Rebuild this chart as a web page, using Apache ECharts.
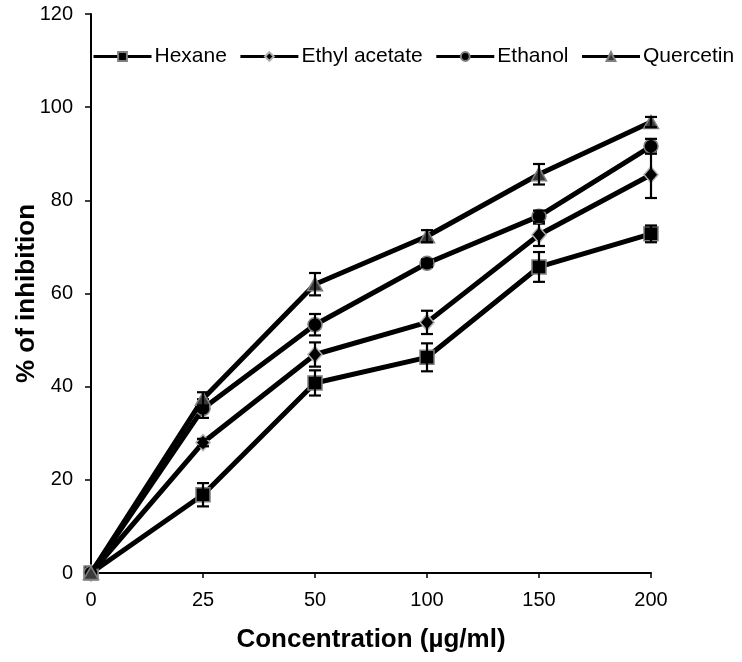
<!DOCTYPE html>
<html>
<head>
<meta charset="utf-8">
<script src="https://cdn.jsdelivr.net/npm/echarts@6/dist/echarts.min.js"></script>
<style>
html,body{margin:0;padding:0;background:#fff;}
#chart{width:742px;height:662px;}
</style>
</head>
<body>
<div id="chart"></div>
<script>
var categories = ['0', '25', '50', '100', '150', '200'];
var seriesNames = ['Hexane', 'Ethyl acetate', 'Ethanol', 'Quercetin'];
var hexane = [0, 16.8, 40.8, 46.3, 65.7, 72.8];
var ethylAcetate = [0, 28.0, 46.9, 53.8, 72.6, 85.5];
var ethanol = [0, 35.3, 53.3, 66.5, 76.6, 91.6];
var quercetin = [0, 37.4, 62.0, 72.3, 85.6, 96.8];
var hexaneErr = [0, 2.5, 2.7, 3.0, 3.2, 1.8];
var ethylAcetateErr = [0, 0.8, 2.6, 2.5, 2.4, 5.0];
var ethanolErr = [0, 2.0, 2.3, 0.8, 1.2, 1.6];
var quercetinErr = [0, 1.4, 2.4, 1.3, 2.2, 1.1];
var yTicks = [0, 20, 40, 60, 80, 100, 120];

var values = [hexane, ethylAcetate, ethanol, quercetin];
var errors = [hexaneErr, ethylAcetateErr, ethanolErr, quercetinErr];
var symbols = ['rect', 'diamond', 'circle', 'triangle'];
var symbolSizes = [14, [14, 16], 14, [15, 13]];
var fills = ['#000000', '#000000', '#000000', '#3a3a3a'];
var borders = ['#7f7f7f', '#b0b0b0', '#7f7f7f', '#7f7f7f'];

var FONT = '"Liberation Sans", Arial, sans-serif';
var series = [];

function errSeries(vals, errs, z) {
  var d = [];
  for (var i = 0; i < vals.length; i++) {
    if (errs[i] > 0) d.push([i, vals[i], errs[i]]);
  }
  return {
    type: 'custom',
    silent: true,
    z: z,
    encode: { x: 0, y: 1 },
    data: d,
    renderItem: function (params, api) {
      var x = api.value(0), v = api.value(1), e = api.value(2);
      var hi = api.coord([x, v + e]);
      var lo = api.coord([x, v - e]);
      var w = 6;
      var st = { stroke: '#000', lineWidth: 2.2 };
      return {
        type: 'group',
        children: [
          { type: 'line', shape: { x1: hi[0], y1: hi[1], x2: lo[0], y2: lo[1] }, style: st },
          { type: 'line', shape: { x1: hi[0] - w, y1: hi[1], x2: hi[0] + w, y2: hi[1] }, style: st },
          { type: 'line', shape: { x1: lo[0] - w, y1: lo[1], x2: lo[0] + w, y2: lo[1] }, style: st }
        ]
      };
    }
  };
}

for (var s = 0; s < seriesNames.length; s++) {
  series.push({
    name: seriesNames[s],
    type: 'line',
    data: values[s],
    z: 3 + s * 2,
    symbol: symbols[s],
    symbolSize: symbolSizes[s],
    showAllSymbol: true,
    lineStyle: { color: '#000', width: 5 },
    itemStyle: { color: fills[s], borderColor: borders[s], borderWidth: 1.5 },
    emphasis: { disabled: true },
    animation: false
  });
  series.push(errSeries(values[s], errors[s], 4 + s * 2));
}

var chart = echarts.init(document.getElementById('chart'), null, { renderer: 'canvas' });
chart.setOption({
  animation: false,
  backgroundColor: '#ffffff',
  textStyle: { fontFamily: FONT },
  grid: { left: 91, right: 91, top: 14, bottom: 89, containLabel: false, outerBoundsMode: 'none' },
  legend: {
    data: seriesNames,
    left: 92,
    top: 46,
    width: 650,
    padding: 0,
    itemGap: 12,
    itemWidth: 58,
    itemHeight: 11,
    lineStyle: { width: 3, color: '#000' },
    textStyle: { fontSize: 21, color: '#000', fontFamily: FONT, padding: [0, 0, 0, -2] }
  },
  xAxis: {
    type: 'category',
    data: categories,
    boundaryGap: false,
    name: 'Concentration (µg/ml)',
    nameLocation: 'middle',
    nameGap: 54,
    nameMoveOverlap: false,
    nameTextStyle: { fontSize: 26, fontWeight: 'bold', color: '#000', fontFamily: FONT },
    axisLine: { lineStyle: { color: '#000', width: 2 } },
    axisTick: { show: true, alignWithLabel: true, length: 5, lineStyle: { color: '#000', width: 1.5 } },
    axisLabel: { fontSize: 20, color: '#000', margin: 17, fontFamily: FONT },
    splitLine: { show: false }
  },
  yAxis: {
    type: 'value',
    min: yTicks[0],
    max: yTicks[yTicks.length - 1],
    interval: yTicks[1] - yTicks[0],
    name: '% of inhibition',
    nameLocation: 'middle',
    nameGap: 51,
    nameMoveOverlap: false,
    nameTextStyle: { fontSize: 26, fontWeight: 'bold', color: '#000', fontFamily: FONT },
    axisLine: { show: true, lineStyle: { color: '#000', width: 2 } },
    axisTick: { show: true, length: 6, lineStyle: { color: '#000', width: 1.5 } },
    axisLabel: { fontSize: 20, color: '#000', margin: 18, fontFamily: FONT },
    splitLine: { show: false }
  },
  series: series
});
</script>
</body>
</html>
